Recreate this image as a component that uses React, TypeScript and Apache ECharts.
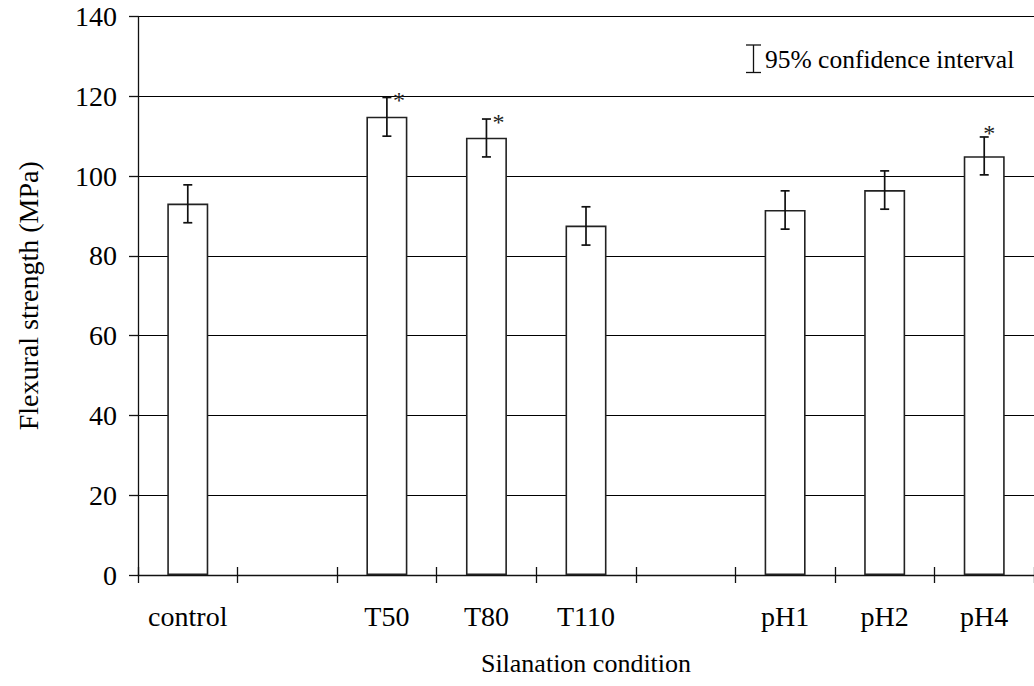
import React, { useEffect, useRef } from "react";
import * as echarts from "echarts";

const categories = ["control", "", "T50", "T80", "T110", "", "pH1", "pH2", "pH4"];
const means: (number | null)[] = [93.1, null, 114.9, 109.6, 87.6, null, 91.5, 96.5, 105.0];
const ciLow: (number | null)[] = [88.3, null, 110.0, 104.8, 82.7, null, 86.7, 91.7, 100.3];
const ciHigh: (number | null)[] = [97.8, null, 119.7, 114.3, 92.3, null, 96.3, 101.3, 109.8];
const significance: string[] = ["", "", "*", "*", "", "", "", "", "*"];
const yTicks = { min: 0, max: 140, interval: 20 };
const xAxisTitle = "Silanation condition";
const yAxisTitle = "Flexural strength (MPa)";
const legendText = "95% confidence interval";

const FONT = "Liberation Serif";

export default function App() {
  const ref = useRef<HTMLDivElement>(null);
  useEffect(() => {
    if (!ref.current) return;
    const chart = echarts.init(ref.current, undefined, { renderer: "svg" });
    const errData = categories
      .map((_, i) => (means[i] == null ? null : [i, ciLow[i], ciHigh[i], significance[i]]))
      .filter((d) => d != null);
    const lastIdx = categories.length - 1;
    chart.setOption({
      animation: false,
      backgroundColor: "#ffffff",
      textStyle: { fontFamily: FONT, color: "#000" },
      grid: { left: 138, top: 16.5, width: 902, height: 558.5, containLabel: false },
      xAxis: [
        {
          type: "category",
          data: categories,
          name: xAxisTitle,
          nameLocation: "middle",
          nameGap: 75,
          nameTextStyle: { fontFamily: FONT, fontSize: 26, color: "#000" },
          axisLine: { lineStyle: { color: "#111", width: 1.3 } },
          axisTick: { show: true, inside: false, length: 8, lineStyle: { color: "#111", width: 1.3 } },
          axisLabel: { interval: 0, margin: 27, fontFamily: FONT, fontSize: 28, color: "#000" },
          splitLine: { show: false },
        },
        {
          type: "category",
          data: categories,
          position: "bottom",
          axisLine: { show: false },
          axisTick: { show: true, inside: true, length: 8, lineStyle: { color: "#111", width: 1.3 } },
          axisLabel: { show: false },
          splitLine: { show: false },
        },
      ],
      yAxis: {
        type: "value",
        min: yTicks.min,
        max: yTicks.max,
        interval: yTicks.interval,
        name: yAxisTitle,
        nameLocation: "middle",
        nameGap: 96,
        nameTextStyle: { fontFamily: FONT, fontSize: 28, color: "#000" },
        axisLine: { show: true, lineStyle: { color: "#111", width: 1.3 } },
        axisTick: { show: true, inside: false, length: 9, lineStyle: { color: "#111", width: 1.3 } },
        axisLabel: { margin: 21, fontFamily: FONT, fontSize: 28, color: "#000" },
        splitLine: { show: true, lineStyle: { color: "#000", width: 1 } },
      },
      graphic: [
        {
          type: "line",
          shape: { x1: 753.5, y1: 45, x2: 753.5, y2: 72.5 },
          style: { stroke: "#111", lineWidth: 1.3 },
        },
        {
          type: "line",
          shape: { x1: 746, y1: 45, x2: 761, y2: 45 },
          style: { stroke: "#111", lineWidth: 1.3 },
        },
        {
          type: "line",
          shape: { x1: 746, y1: 72.5, x2: 761, y2: 72.5 },
          style: { stroke: "#111", lineWidth: 1.3 },
        },
        {
          type: "text",
          x: 765,
          y: 59,
          style: {
            text: legendText,
            fontFamily: FONT,
            fontSize: 25.5,
            fill: "#000",
            verticalAlign: "middle",
          },
        },
      ],
      series: [
        {
          type: "bar",
          data: means,
          barWidth: 41,
          itemStyle: { color: "#ffffff", borderColor: "#222", borderWidth: 1.6 },
          z: 2,
        },
        {
          type: "custom",
          data: errData,
          encode: { x: 0, y: [1, 2] },
          z: 3,
          renderItem: (params: any, api: any) => {
            const idx = api.value(0);
            const lo = api.value(1);
            const hi = api.value(2);
            const star = errData[params.dataIndex] ? (errData[params.dataIndex] as any)[3] : "";
            const top = api.coord([idx, hi]);
            const bot = api.coord([idx, lo]);
            const hw = 4.5;
            const st = { stroke: "#111", lineWidth: 1.7 };
            const children: any[] = [
              { type: "line", shape: { x1: top[0], y1: top[1], x2: bot[0], y2: bot[1] }, style: st },
              { type: "line", shape: { x1: top[0] - hw, y1: top[1], x2: top[0] + hw, y2: top[1] }, style: st },
              { type: "line", shape: { x1: bot[0] - hw, y1: bot[1], x2: bot[0] + hw, y2: bot[1] }, style: st },
            ];
            if (star) {
              const above = idx === lastIdx;
              children.push({
                type: "text",
                x: above ? top[0] + 5 : top[0] + 12,
                y: above ? top[1] - 4 : top[1] + 3,
                style: {
                  text: star,
                  fontFamily: FONT,
                  fontSize: 24,
                  fill: "#222",
                  align: "center",
                  verticalAlign: "middle",
                },
              });
            }
            return { type: "group", children };
          },
        },
      ],
    });
    return () => chart.dispose();
  }, []);
  return (
    <div
      ref={ref}
      style={{ position: "absolute", left: 0, top: 0, width: 1034, height: 686, background: "#fff" }}
    />
  );
}
